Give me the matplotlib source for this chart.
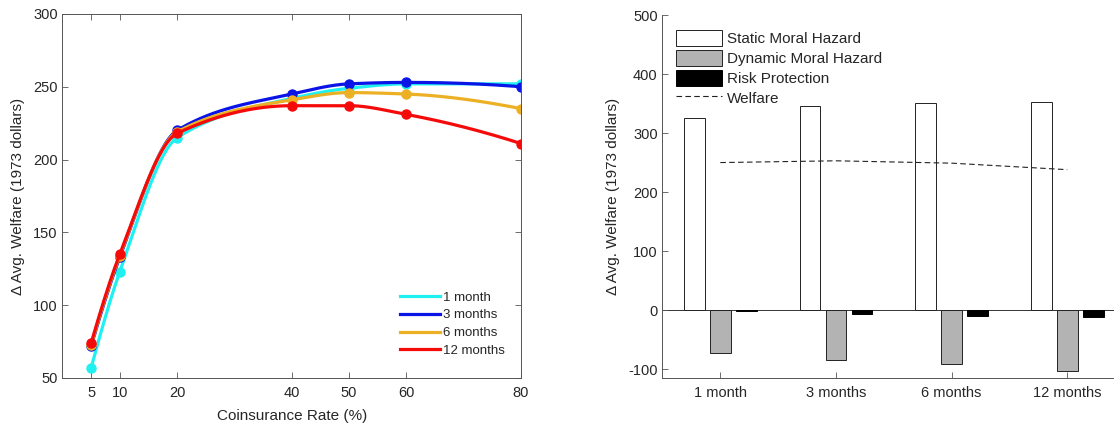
import numpy as np
import matplotlib.pyplot as plt

plt.rcParams.update({'font.family': ['Liberation Sans', 'DejaVu Sans'], 'font.size': 10,
                     'axes.unicode_minus': False})

# left panel: welfare vs coinsurance rate
rates = [5, 10, 20, 40, 50, 60, 80]
welfare_1m = [57, 123, 215, 242, 249, 252, 252]
welfare_3m = [72, 133, 220, 245, 252, 253, 250]
welfare_6m = [73, 134, 219, 241, 246, 245, 235]
welfare_12m = [74, 135, 218, 237, 237, 231, 211]
series_labels = ['1 month', '3 months', '6 months', '12 months']
series_colors = ['#1ff0f0', '#0a14e6', '#ecb024', '#f50a0a']

# right panel: decomposition by horizon
horizons = ['1 month', '3 months', '6 months', '12 months']
static_mh = [325, 345, 351, 352]
dynamic_mh = [-73, -85, -92, -103]
risk_prot = [-2, -7, -10, -12]
welfare_opt = [250, 253, 249, 238]

TXT = '#262626'


def pchip(x, y, xs):
    # shape-preserving cubic, like matlab's pchip
    x = np.asarray(x, float)
    y = np.asarray(y, float)
    h = np.diff(x)
    d = np.diff(y) / h
    n = len(x)
    m = np.zeros(n)
    for k in range(1, n - 1):
        if d[k - 1] * d[k] > 0:
            w1 = 2 * h[k] + h[k - 1]
            w2 = h[k] + 2 * h[k - 1]
            m[k] = (w1 + w2) / (w1 / d[k - 1] + w2 / d[k])
    m[0] = ((2 * h[0] + h[1]) * d[0] - h[0] * d[1]) / (h[0] + h[1])
    if np.sign(m[0]) != np.sign(d[0]):
        m[0] = 0
    m[-1] = ((2 * h[-1] + h[-2]) * d[-1] - h[-1] * d[-2]) / (h[-1] + h[-2])
    if np.sign(m[-1]) != np.sign(d[-1]):
        m[-1] = 0
    idx = np.clip(np.searchsorted(x, xs) - 1, 0, n - 2)
    t = (xs - x[idx]) / h[idx]
    h00 = 2 * t**3 - 3 * t**2 + 1
    h10 = t**3 - 2 * t**2 + t
    h01 = -2 * t**3 + 3 * t**2
    h11 = t**3 - t**2
    return h00 * y[idx] + h10 * h[idx] * m[idx] + h01 * y[idx + 1] + h11 * h[idx] * m[idx + 1]


fig = plt.figure(figsize=(11.14, 4.23), dpi=100)

# ---- left panel ----
ax1 = fig.add_axes([0.0561, 0.1064, 0.4116, 0.8606])
xs = np.linspace(rates[0], rates[-1], 400)
for vals, lab, col in zip([welfare_1m, welfare_3m, welfare_6m, welfare_12m], series_labels, series_colors):
    ax1.plot(xs, pchip(rates, vals, xs), color=col, lw=2.3, label=lab)
    ax1.plot(rates, vals, 'o', color=col, ms=6.5)

ax1.set_xlim(0, 80)
ax1.set_ylim(50, 300)
ax1.set_xticks(rates)
ax1.set_yticks(range(50, 301, 50))
ax1.set_xlabel('Coinsurance Rate (%)', fontsize=11, color=TXT, labelpad=6)
ax1.set_ylabel('\u0394 Avg. Welfare (1973 dollars)', fontsize=11, color=TXT, labelpad=6)
ax1.tick_params(direction='in', top=True, right=True, length=4, width=0.6,
                colors='#555555', labelcolor=TXT, labelsize=10.5)
ax1.tick_params(axis='x', pad=6)
for s in ax1.spines.values():
    s.set_color('#555555')
    s.set_linewidth(0.7)
leg1 = ax1.legend(loc='lower right', frameon=False, fontsize=9.5, handlelength=3.0,
                  handletextpad=0.2, labelspacing=0.42, bbox_to_anchor=(0.99, 0.025))
for t in leg1.get_texts():
    t.set_color(TXT)

# ---- right panel ----
ax2 = fig.add_axes([0.5947, 0.1064, 0.4152, 0.8581])
pos = np.arange(1, len(horizons) + 1)
bw = 0.18
b1 = ax2.bar(pos - 0.225, static_mh, bw, color='white', edgecolor='#222222', lw=0.7, label='Static Moral Hazard')
b2 = ax2.bar(pos, dynamic_mh, bw, color='#b3b3b3', edgecolor='#222222', lw=0.7, label='Dynamic Moral Hazard')
b3 = ax2.bar(pos + 0.225, risk_prot, bw, color='black', edgecolor='black', lw=0.7, label='Risk Protection')
ax2.axhline(0, color='#333333', lw=0.7, zorder=0.5)
wl, = ax2.plot(pos, welfare_opt, '--', color='#222222', lw=0.8, dashes=(5, 3), label='Welfare')

ax2.set_xlim(0.5, 4.5)
ax2.set_ylim(-115, 500)
ax2.set_xticks(pos)
ax2.set_xticklabels(horizons)
ax2.set_yticks(range(-100, 501, 100))
ax2.set_ylabel('\u0394 Avg. Welfare (1973 dollars)', fontsize=11, color=TXT, labelpad=6)
ax2.tick_params(direction='in', length=4, width=0.6, colors='#555555', labelcolor=TXT,
                labelsize=10.5)
ax2.tick_params(axis='x', pad=6)
ax2.spines['top'].set_visible(False)
ax2.spines['right'].set_visible(False)
for s in ['left', 'bottom']:
    ax2.spines[s].set_color('#555555')
    ax2.spines[s].set_linewidth(0.7)
leg2 = ax2.legend([b1, b2, b3, wl], ['Static Moral Hazard', 'Dynamic Moral Hazard', 'Risk Protection', 'Welfare'],
                  loc='upper left', frameon=False, fontsize=11, handlelength=3.0,
                  handleheight=1.25, handletextpad=0.3, labelspacing=0.25,
                  bbox_to_anchor=(0.01, 0.985), borderaxespad=0.2)
for t in leg2.get_texts():
    t.set_color(TXT)

fig.savefig('out.png', dpi=100)
